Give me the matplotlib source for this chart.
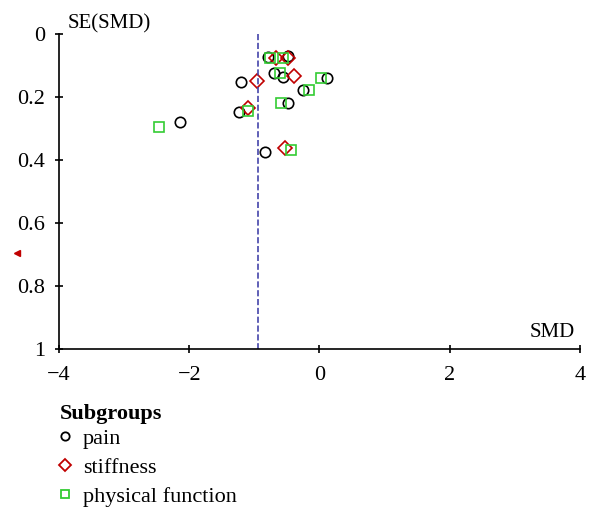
import matplotlib
matplotlib.use("Agg")
from matplotlib import pyplot as plt
from matplotlib.lines import Line2D

plt.rcParams['font.family'] = ['Liberation Serif', 'DejaVu Serif']

# pain
pain_smd = [-0.79, -0.49, -0.70, -0.56, 0.11, -1.21, -0.25, -0.48, -1.23, -2.14, -0.84]
pain_se = [0.074, 0.070, 0.125, 0.135, 0.139, 0.151, 0.178, 0.218, 0.249, 0.279, 0.376]
# stiffness
stiff_smd = [-0.67, -0.49, -0.39, -0.96, -1.10, -0.53]
stiff_se = [0.075, 0.077, 0.132, 0.149, 0.236, 0.363]
# physical function
phys_smd = [-0.76, -0.56, -0.61, 0.03, -0.16, -0.59, -1.09, -2.47, -0.44]
phys_se = [0.077, 0.077, 0.125, 0.139, 0.178, 0.218, 0.244, 0.294, 0.368]
# off-scale stiffness study shown as arrow outside the axis
offscale_smd = [-4.65]
offscale_se = [0.696]

pooled_smd = -0.95

fig = plt.figure(figsize=(5.97, 5.20), dpi=100)
ax = fig.add_axes([0.0988, 0.3288, 0.8727, 0.6058])

ax.plot(pain_smd, pain_se, 'o', mfc='none', mec='black', ms=7.5, mew=1.2)
ax.plot(stiff_smd, stiff_se, 'D', mfc='none', mec='#c00000', ms=7, mew=1.2)
ax.plot(phys_smd, phys_se, 's', mfc='none', mec='#33cc33', ms=6.5, mew=1.2)
ax.plot(offscale_smd, offscale_se, '<', color='#c00000', ms=4, clip_on=False)

ax.plot([pooled_smd, pooled_smd], [0, 1], '--', color='#4444aa', lw=1.2)

ax.set_xlim(-4, 4)
ax.set_ylim(1, 0)
ax.set_xticks([-4, -2, 0, 2, 4])
ax.set_xticklabels(['\u22124', '\u22122', '0', '2', '4'])
ax.set_yticks([0, 0.2, 0.4, 0.6, 0.8, 1])
ax.set_yticklabels(['0', '0.2', '0.4', '0.6', '0.8', '1'])
ax.tick_params(direction='inout', length=6, width=1.2, labelsize=16)
ax.tick_params(axis='x', pad=9)
ax.tick_params(axis='y', pad=7)
for s in ['top', 'right']:
    ax.spines[s].set_visible(False)
for s in ['left', 'bottom']:
    ax.spines[s].set_linewidth(1.2)

fig.text(0.114, 0.954, 'SE(SMD)', fontsize=15, va='center')
fig.text(0.963, 0.36, 'SMD', fontsize=15, ha='right', va='center')

fig.text(0.1005, 0.204, 'Subgroups', fontsize=16, fontweight='bold', va='center')
handles = [
    Line2D([], [], ls='none', marker='o', mfc='none', mec='black', ms=6, mew=1.3),
    Line2D([], [], ls='none', marker='D', mfc='none', mec='#c00000', ms=6, mew=1.3),
    Line2D([], [], ls='none', marker='s', mfc='none', mec='#33cc33', ms=5.5, mew=1.3),
]
leg = fig.legend(handles, ['pain', 'stiffness', 'physical function'],
                 loc='upper left', bbox_to_anchor=(0.0975, 0.177),
                 frameon=False, fontsize=16, handlelength=0.6, handletextpad=0.5,
                 labelspacing=0.38, borderpad=0, borderaxespad=0)

fig.savefig('out.png', dpi=100)
